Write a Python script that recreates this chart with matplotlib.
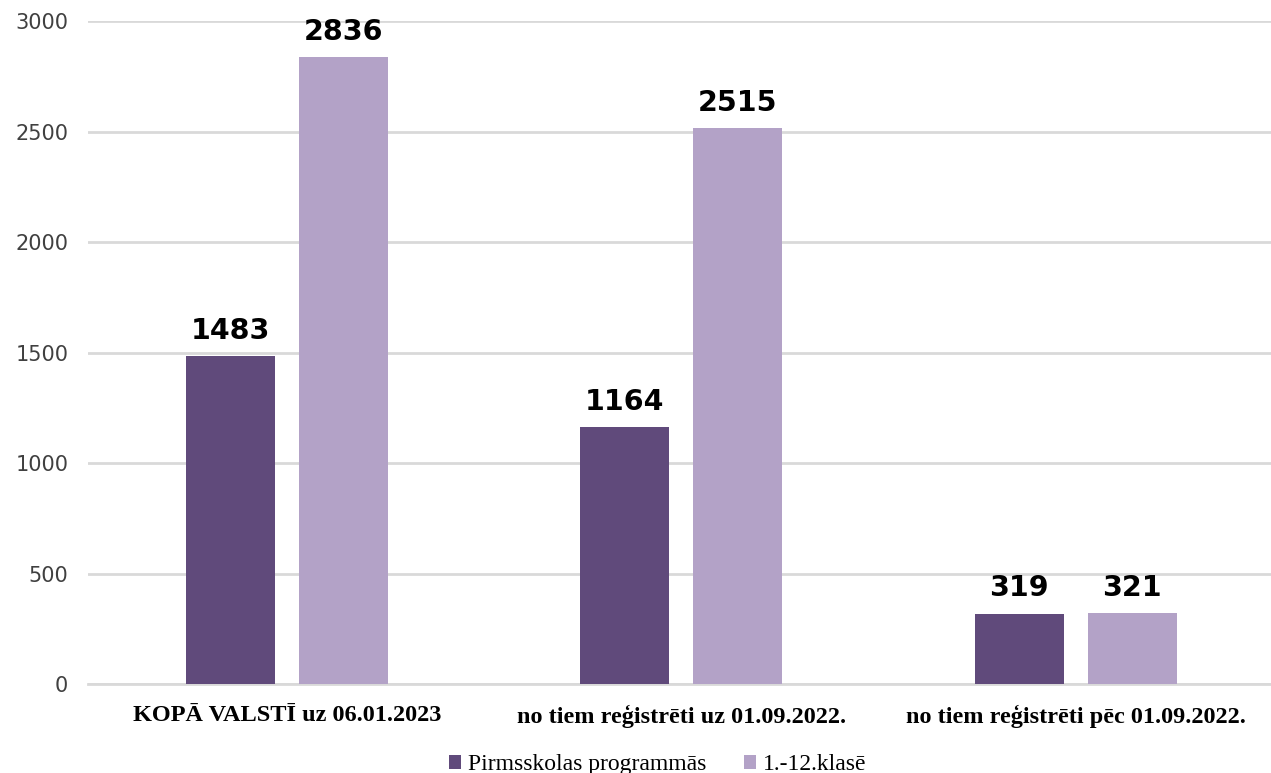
import numpy as np
import matplotlib.pyplot as plt

categories = ["KOPĀ VALSTĪ uz 06.01.2023", "no tiem reģistrēti uz 01.09.2022.",
              "no tiem reģistrēti pēc 01.09.2022."]
series_names = ["Pirmsskolas programmās", "1.-12.klasē"]
pirmsskolas = [1483, 1164, 319]
klases = [2836, 2515, 321]
yticks = [0, 500, 1000, 1500, 2000, 2500, 3000]

dark = "#604a7b"
light = "#b3a2c7"
grid = "#d9d9d9"

fig = plt.figure(figsize=(12.71, 7.73), dpi=100)
ax = fig.add_axes([0.069, 0.1151, 0.931, 0.8577])

x = np.arange(len(categories)) + 0.005
w = 0.226
off = 0.143
b1 = ax.bar(x - off, pirmsskolas, w, color=dark, label=series_names[0], zorder=3)
b2 = ax.bar(x + off, klases, w, color=light, label=series_names[1], zorder=3)

for bars in (b1, b2):
    for r in bars:
        ax.annotate(f"{int(r.get_height())}", (r.get_x() + r.get_width() / 2, r.get_height()),
                    xytext=(0, 8), textcoords="offset points", ha="center", va="bottom",
                    fontsize=20.5, fontweight="bold", color="black")

ax.set_xlim(-0.5, 2.5)
ax.set_ylim(0, 3000)
ax.set_yticks(yticks)
ax.set_yticklabels([str(t) for t in yticks], fontsize=15, color="#404040")
ax.set_xticks(x)
ax.set_xticklabels(categories, fontsize=17.5, fontweight="bold", family="Liberation Serif")
ax.tick_params(axis="both", length=0)
ax.tick_params(axis="y", pad=14)
ax.tick_params(axis="x", pad=15)
ax.yaxis.grid(True, color=grid, linewidth=2, zorder=0)
for s in ["top", "right", "left"]:
    ax.spines[s].set_visible(False)
ax.spines["bottom"].set_color(grid)
ax.spines["bottom"].set_linewidth(2)

leg = ax.legend(loc="center", bbox_to_anchor=(0.4815, -0.122), ncol=2, frameon=False,
                prop={"family": "Liberation Serif", "size": 17},
                handlelength=0.5, handleheight=0.5, handletextpad=0.3, columnspacing=1.6)

fig.savefig("out.png", dpi=100)
